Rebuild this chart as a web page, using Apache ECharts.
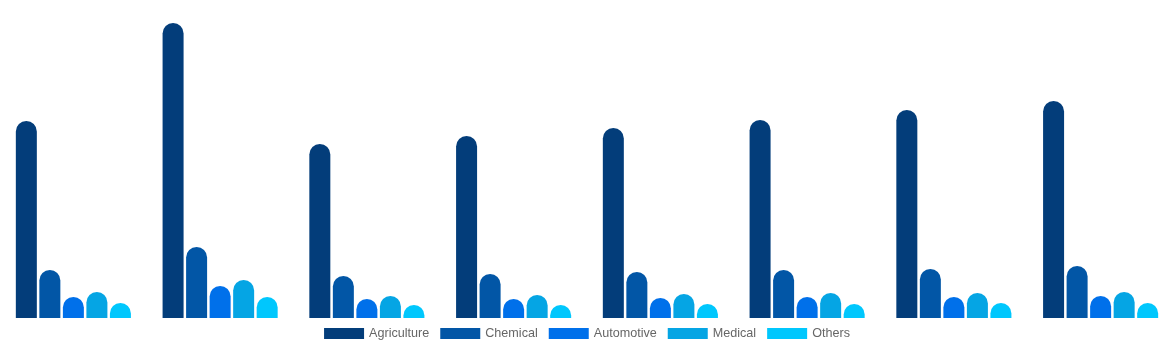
<!DOCTYPE html>
<html>
<head>
<meta charset="utf-8">
<script src="https://cdn.jsdelivr.net/npm/echarts@6/dist/echarts.min.js"></script>
<style>
  html, body { margin: 0; padding: 0; background: #fff; }
  #chart { width: 1174px; height: 350px; }
</style>
</head>
<body>
<div id="chart"></div>
<script>
// Eight periods, five sectors per period
const categories = ['P1', 'P2', 'P3', 'P4', 'P5', 'P6', 'P7', 'P8'];
const seriesNames = ['Agriculture', 'Chemical', 'Automotive', 'Medical', 'Others'];

const agriculture = [197, 295, 174, 182, 190, 198, 208, 217];
const chemical    = [48, 71, 42, 44, 46, 48, 49, 52];
const automotive  = [21, 32, 19, 19, 20, 21, 21, 22];
const medical     = [26, 38, 22, 23, 24, 25, 25, 26];
const others      = [15, 21, 13, 13, 14, 14, 15, 15];

const seriesColors = ['#033d7a', '#0256a6', '#0070ea', '#05a5e4', '#00c7fd'];
const seriesData = [agriculture, chemical, automotive, medical, others];

const chart = echarts.init(document.getElementById('chart'));

chart.setOption({
  animation: false,
  color: seriesColors,
  grid: { left: 0, right: 0, top: 18, bottom: 32 },
  legend: {
    bottom: 5,
    left: 'center',
    itemWidth: 40,
    itemHeight: 11,
    itemGap: 11,
    icon: 'rect',
    textStyle: { color: '#666', fontSize: 12.6, fontFamily: 'Liberation Sans, Arial, sans-serif' },
    data: seriesNames
  },
  xAxis: {
    type: 'category',
    data: categories,
    show: false
  },
  yAxis: {
    type: 'value',
    min: 0,
    max: 300,
    show: false
  },
  series: seriesNames.map((name, i) => ({
    name: name,
    type: 'bar',
    data: seriesData[i],
    barWidth: 21,
    barGap: '12%',
    itemStyle: { borderRadius: [11, 11, 0, 0] }
  }))
});
</script>
</body>
</html>
